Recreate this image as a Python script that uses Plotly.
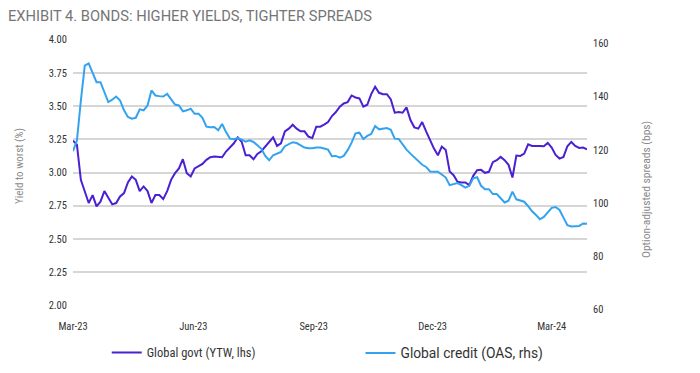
import plotly.graph_objects as go
import pandas as pd

# x categories: observations every 3 days from 1 Mar 2023
dates = pd.date_range("2023-03-01", periods=132, freq="3D")

govt_ytw = [
    3.24, 3.21, 2.945, 2.86, 2.77, 2.83, 2.745, 2.78, 2.86, 2.81,
    2.76, 2.77, 2.82, 2.845, 2.925, 2.97, 2.945, 2.86, 2.895, 2.86,
    2.77, 2.83, 2.83, 2.80, 2.86, 2.945, 2.995, 3.03, 3.10, 2.995,
    2.97, 3.03, 3.05, 3.065, 3.095, 3.115, 3.12, 3.12, 3.115, 3.158,
    3.1875, 3.22, 3.265, 3.23, 3.13, 3.13, 3.10, 3.14, 3.16, 3.195,
    3.23, 3.265, 3.20, 3.22, 3.31, 3.33, 3.36, 3.33, 3.31, 3.31,
    3.27, 3.26, 3.345, 3.345, 3.36, 3.38, 3.425, 3.455, 3.495, 3.52,
    3.53, 3.58, 3.565, 3.5575, 3.495, 3.51, 3.59, 3.645, 3.60, 3.59,
    3.59, 3.55, 3.45, 3.455, 3.45, 3.49, 3.395, 3.34, 3.33, 3.38,
    3.31, 3.24, 3.18, 3.13, 3.195, 3.17, 3.0075, 2.98, 2.93, 2.925,
    2.925, 2.905, 2.975, 3.0175, 3.02, 2.9975, 3.005, 3.0775, 3.0925, 3.1175,
    3.0925, 3.0575, 2.9625, 3.1275, 3.125, 3.1425, 3.2125, 3.20, 3.2025, 3.20,
    3.1975, 3.2225, 3.1875, 3.1325, 3.105, 3.1175, 3.1975, 3.23, 3.20, 3.185,
    3.1875, 3.175,
]

credit_oas = [
    118, 122, 137, 150.25, 151.1, 147.75, 144, 144, 140.25, 136.5,
    137.4, 138.6, 137.1, 133.4, 130.9, 130.25, 130.6, 133.75, 133.4, 135.25,
    140.9, 139, 138.75, 138.6, 139.6, 137.75, 135.6, 135.25, 133, 133.4,
    134, 132.1, 132.1, 130.6, 127.25, 127, 127.1, 125.9, 128.25, 125.25,
    122.75, 122.5, 123, 122.4, 121.6, 122.1, 121.5, 120.25, 118.9, 116.25,
    114.6, 116.5, 117.1, 117.75, 119.9, 120.6, 121.4, 121.1, 120.1, 119.4,
    119.1, 119.1, 119.4, 119.4, 119, 118.6, 116.1, 116.25, 115.6, 116.25,
    118.4, 121.25, 124.75, 125, 122.6, 123.75, 124.5, 127.5, 126.25, 126.4,
    126.75, 126.1, 122.75, 122.6, 120.4, 118.6, 117.1, 115.6, 114.4, 112.9,
    112.1, 110.4, 110.25, 110.25, 109.25, 108.1, 105.25, 105.6, 106, 105.25,
    104.3, 105, 107.8, 108.2, 105, 103.7, 103.7, 101.9, 101.9, 100.3,
    98.7, 99.4, 102.8, 99.9, 99.5, 99, 97.3, 95.4, 94, 92.4,
    93.3, 95.2, 96.7, 97, 95.9, 93, 90.2, 89.7, 89.7, 89.9,
    90.8, 90.7,
]

x_tick_dates = ["2023-03-01", "2023-06-01", "2023-09-01", "2023-12-01", "2024-03-01"]
x_tick_labels = ["Mar-23", "Jun-23", "Sep-23", "Dec-23", "Mar-24"]
left_ticks = [2.00, 2.25, 2.50, 2.75, 3.00, 3.25, 3.50, 3.75, 4.00]
right_ticks = [60, 80, 100, 120, 140, 160]

PURPLE = "#4a20d2"
BLUE = "#33a3ef"
FONT = "Roboto"
NARROW = "Liberation Sans Narrow, Roboto Condensed, Arial Narrow, sans-serif"
GRID = "#d6d6d6"

fig = go.Figure()
fig.add_trace(go.Scatter(
    x=dates, y=govt_ytw, mode="lines", name="Global govt (YTW, lhs)",
    line=dict(color=PURPLE, width=2), yaxis="y", legend="legend",
    showlegend=True,
))
fig.add_trace(go.Scatter(
    x=dates, y=credit_oas, mode="lines", name="Global credit (OAS, rhs)",
    line=dict(color=BLUE, width=2), yaxis="y2", legend="legend2",
    showlegend=True,
))

fig.update_layout(
    width=700, height=373,
    showlegend=True,
    margin=dict(l=73, r=113, t=39, b=67, autoexpand=False),
    paper_bgcolor="white", plot_bgcolor="white",
    font=dict(family=NARROW, color="#333333", size=10.5),
    title=dict(
        text="EXHIBIT 4. BONDS: HIGHER YIELDS, TIGHTER SPREADS",
        font=dict(family=FONT, size=14.7, color="#757575"),
        xref="container", x=8 / 700, xanchor="left",
        yref="container", y=1 - 16 / 373, yanchor="middle",
    ),
    xaxis=dict(
        type="date", range=["2023-03-01", "2024-03-28"],
        tickvals=x_tick_dates, ticktext=x_tick_labels,
        showgrid=False, zeroline=False, showline=False, ticks="",
        ticklabelstandoff=12,
        tickfont=dict(family=NARROW, size=10.5, color="#333333"),
    ),
    yaxis=dict(
        range=[1.995, 4.005], tickvals=left_ticks, tickformat=".2f",
        showgrid=True, gridcolor=GRID, gridwidth=2,
        zeroline=False, showline=False, ticks="",
        ticklabelstandoff=5,
        tickfont=dict(family=NARROW, size=10.5, color="#333333"),
    ),
    yaxis2=dict(
        range=[59.75, 160.25], tickvals=right_ticks, overlaying="y", side="right",
        showgrid=False, zeroline=False, showline=False, ticks="",
        ticklabelshift=4, ticklabelstandoff=5,
        tickfont=dict(family=NARROW, size=10.5, color="#333333"),
    ),
    legend=dict(
        orientation="h", x=0.0695 - 2 / 514, y=-0.176, xanchor="left", yanchor="middle",
        font=dict(family=NARROW, size=12.5, color="#333333"), bgcolor="rgba(0,0,0,0)",
    ),
    legend2=dict(
        orientation="h", x=0.5593, y=-0.176, xanchor="left", yanchor="middle",
        font=dict(family=FONT, size=13.8, color="#333333"), bgcolor="rgba(0,0,0,0)",
    ),
    annotations=[
        dict(text="Yield to worst (%)", textangle=-90, showarrow=False,
             xref="paper", yref="paper", x=(19 - 73) / 514, y=(306 - 166) / 267,
             xanchor="center", yanchor="middle",
             font=dict(family=NARROW, size=11, color="#8a8a8a")),
        dict(text="Option-adjusted spreads (bps)", textangle=-90, showarrow=False,
             xref="paper", yref="paper", x=(646 - 73) / 514, y=(306 - 190) / 267,
             xanchor="center", yanchor="middle",
             font=dict(family=NARROW, size=11.5, color="#8a8a8a")),
    ],
)

fig.write_html(
    "out.html",
    config={"displayModeBar": False},
    post_script="document.body.style.margin='0';",
)
